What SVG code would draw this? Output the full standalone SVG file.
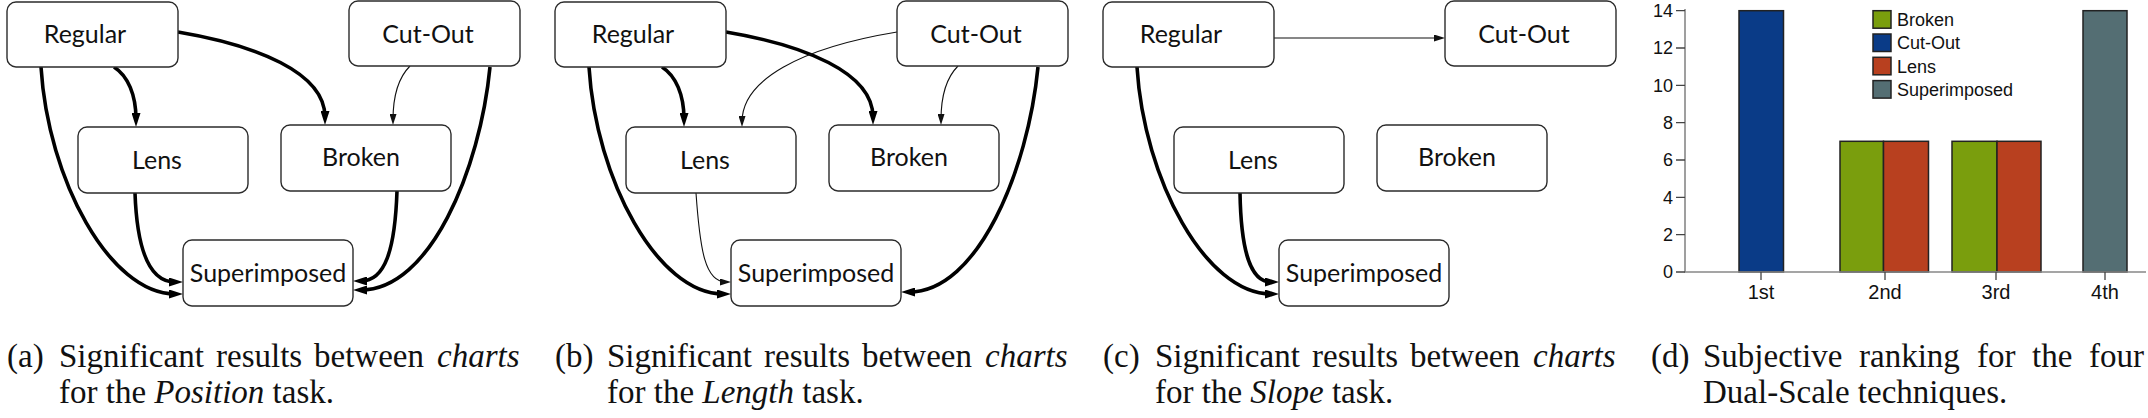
<svg xmlns="http://www.w3.org/2000/svg" width="2148" height="418" viewBox="0 0 2148 418">
<style>
.node rect{fill:#fff;stroke:#2b2b2b;stroke-width:1.4}
.node text{font-family:Lato,"Liberation Sans",sans-serif;font-size:25px;text-anchor:middle;fill:#111}
.thick{fill:none;stroke:#000;stroke-width:3.6}
.thin{fill:none;stroke:#111;stroke-width:1.1}
.cap{font-family:"Liberation Serif","Times New Roman",serif;font-size:33px;fill:#111}
.it{font-style:italic}
.ax{stroke:#888;stroke-width:1.6;fill:none}
.tk{stroke:#444;stroke-width:1.3}
.yl{font-family:"Liberation Sans",Arial,sans-serif;font-size:18px;fill:#111;text-anchor:end}
.xl{font-family:"Liberation Sans",Arial,sans-serif;font-size:20px;fill:#111;text-anchor:middle}
.lg{font-family:"Liberation Sans",Arial,sans-serif;font-size:18px;fill:#111}
.bar{stroke:#222;stroke-width:1.5}
</style>
<defs>
<marker id="ah" viewBox="0 0 14 9" refX="6" refY="4.5" markerWidth="14" markerHeight="9" orient="auto" markerUnits="userSpaceOnUse"><path d="M0,0 L14,4.5 L0,9 z" fill="#000"/></marker>
<marker id="ahs" viewBox="0 0 11 7" refX="6" refY="3.5" markerWidth="11" markerHeight="7" orient="auto" markerUnits="userSpaceOnUse"><path d="M0,0 L11,3.5 L0,7 z" fill="#111"/></marker>
</defs>

<!-- Panel (a) -->
<g id="connectors-a">
<path class="thick" marker-end="url(#ah)" d="M114,67 C128,76 136,95 136,119"/>
<path class="thick" marker-end="url(#ah)" d="M178,32 C255,45 325,72 325,117"/>
<path class="thin" marker-end="url(#ahs)" d="M410,66 C398,78 393,95 393,120"/>
<path class="thick" marker-end="url(#ah)" d="M490,67 C480,170 430,290 361,290"/>
<path class="thick" marker-end="url(#ah)" d="M41,67 C48,180 110,294 175,294"/>
<path class="thick" marker-end="url(#ah)" d="M135,193 C137,250 150,282 175,282"/>
<path class="thick" marker-end="url(#ah)" d="M397,191 C395,250 385,281 361,281"/>
</g>
<g id="a-regular" class="node"><rect x="7" y="2" width="171" height="65" rx="9"/><text x="85" y="43">Regular</text></g>
<g id="a-cutout" class="node"><rect x="349" y="1" width="171" height="65" rx="9"/><text x="428" y="43">Cut-Out</text></g>
<g id="a-lens" class="node"><rect x="78" y="127" width="170" height="66" rx="9"/><text x="157" y="169">Lens</text></g>
<g id="a-broken" class="node"><rect x="281" y="125" width="170" height="66" rx="9"/><text x="361" y="166">Broken</text></g>
<g id="a-superimposed" class="node"><rect x="183" y="240" width="170" height="66" rx="9"/><text x="268" y="282">Superimposed</text></g>

<!-- Panel (b) -->
<g id="connectors-b">
<path class="thick" marker-end="url(#ah)" d="M662,67 C676,76 684,95 684,119"/>
<path class="thick" marker-end="url(#ah)" d="M726,32 C803,45 873,72 873,117"/>
<path class="thin" marker-end="url(#ahs)" d="M897,32 C800,48 742,80 742,122"/>
<path class="thin" marker-end="url(#ahs)" d="M958,66 C946,78 941,95 941,120"/>
<path class="thick" marker-end="url(#ah)" d="M1038,67 C1028,170 978,292 909,292"/>
<path class="thick" marker-end="url(#ah)" d="M589,67 C596,180 658,294 723,294"/>
<path class="thin" marker-end="url(#ahs)" d="M696,193 C700,250 705,282 726,282"/>
</g>
<g id="b-regular" class="node"><rect x="555" y="2" width="171" height="65" rx="9"/><text x="633" y="43">Regular</text></g>
<g id="b-cutout" class="node"><rect x="897" y="1" width="171" height="65" rx="9"/><text x="976" y="43">Cut-Out</text></g>
<g id="b-lens" class="node"><rect x="626" y="127" width="170" height="66" rx="9"/><text x="705" y="169">Lens</text></g>
<g id="b-broken" class="node"><rect x="829" y="125" width="170" height="66" rx="9"/><text x="909" y="166">Broken</text></g>
<g id="b-superimposed" class="node"><rect x="731" y="240" width="170" height="66" rx="9"/><text x="816" y="282">Superimposed</text></g>

<!-- Panel (c) -->
<g id="connectors-c">
<path class="thin" marker-end="url(#ahs)" d="M1274,38 L1440,38"/>
<path class="thick" marker-end="url(#ah)" d="M1137,67 C1144,180 1206,294 1271,294"/>
<path class="thick" marker-end="url(#ah)" d="M1240,193 C1241,250 1250,282 1271,282"/>
</g>
<g id="c-regular" class="node"><rect x="1103" y="2" width="171" height="65" rx="9"/><text x="1181" y="43">Regular</text></g>
<g id="c-cutout" class="node"><rect x="1445" y="1" width="171" height="65" rx="9"/><text x="1524" y="43">Cut-Out</text></g>
<g id="c-lens" class="node"><rect x="1174" y="127" width="170" height="66" rx="9"/><text x="1253" y="169">Lens</text></g>
<g id="c-broken" class="node"><rect x="1377" y="125" width="170" height="66" rx="9"/><text x="1457" y="166">Broken</text></g>
<g id="c-superimposed" class="node"><rect x="1279" y="240" width="170" height="66" rx="9"/><text x="1364" y="282">Superimposed</text></g>

<!-- Panel (d) bar chart -->
<g id="chart">
<rect class="bar" x="1739" y="10.7" width="44.5" height="261.3" fill="#0a3b87"/>
<rect class="bar" x="1840" y="141.3" width="43.5" height="130.7" fill="#7a9e0d"/>
<rect class="bar" x="1883.5" y="141.3" width="45" height="130.7" fill="#b8401f"/>
<rect class="bar" x="1952" y="141.3" width="45" height="130.7" fill="#7a9e0d"/>
<rect class="bar" x="1997" y="141.3" width="44" height="130.7" fill="#b8401f"/>
<rect class="bar" x="2083" y="10.7" width="44" height="261.3" fill="#546e73"/>
<path class="ax" d="M1685,9 V272 H2146"/>
<path class="tk" d="M1676,10.7 H1685 M1676,48 H1685 M1676,85.3 H1685 M1676,122.7 H1685 M1676,160 H1685 M1676,197.3 H1685 M1676,234.7 H1685 M1676,272 H1685 M1761,272 V280 M1885,272 V280 M1996,272 V280 M2105,272 V280"/>
<text class="yl" x="1673" y="17">14</text>
<text class="yl" x="1673" y="54.3">12</text>
<text class="yl" x="1673" y="91.6">10</text>
<text class="yl" x="1673" y="129">8</text>
<text class="yl" x="1673" y="166.3">6</text>
<text class="yl" x="1673" y="203.6">4</text>
<text class="yl" x="1673" y="241">2</text>
<text class="yl" x="1673" y="278.3">0</text>
<text class="xl" x="1761" y="299">1st</text>
<text class="xl" x="1885" y="299">2nd</text>
<text class="xl" x="1996" y="299">3rd</text>
<text class="xl" x="2105" y="299">4th</text>
<g id="legend">
<rect class="bar" x="1873" y="10.7" width="18" height="17.5" fill="#7a9e0d"/>
<rect class="bar" x="1873" y="34" width="18" height="17.5" fill="#0a3b87"/>
<rect class="bar" x="1873" y="57.3" width="18" height="17.5" fill="#b8401f"/>
<rect class="bar" x="1873" y="80.6" width="18" height="17.5" fill="#546e73"/>
<text class="lg" x="1897" y="26">Broken</text>
<text class="lg" x="1897" y="49.3">Cut-Out</text>
<text class="lg" x="1897" y="72.6">Lens</text>
<text class="lg" x="1897" y="96">Superimposed</text>
</g>
</g>

<!-- Captions -->
<g id="captions">
<text class="cap" y="367"><tspan x="7">(a)</tspan><tspan x="59">Significant</tspan><tspan x="216">results</tspan><tspan x="314">between</tspan><tspan x="437" class="it">charts</tspan></text>
<text class="cap" x="59" y="403">for the <tspan class="it">Position</tspan> task.</text>
<text class="cap" y="367"><tspan x="555">(b)</tspan><tspan x="607">Significant</tspan><tspan x="764">results</tspan><tspan x="862">between</tspan><tspan x="985" class="it">charts</tspan></text>
<text class="cap" x="607" y="403">for the <tspan class="it">Length</tspan> task.</text>
<text class="cap" y="367"><tspan x="1103">(c)</tspan><tspan x="1155">Significant</tspan><tspan x="1312">results</tspan><tspan x="1410">between</tspan><tspan x="1533" class="it">charts</tspan></text>
<text class="cap" x="1155" y="403">for the <tspan class="it">Slope</tspan> task.</text>
<text class="cap" y="367"><tspan x="1651">(d)</tspan><tspan x="1703">Subjective</tspan><tspan x="1859">ranking</tspan><tspan x="1977">for</tspan><tspan x="2032">the</tspan><tspan x="2089">four</tspan></text>
<text class="cap" x="1703" y="403">Dual-Scale techniques.</text>
</g>
</svg>
